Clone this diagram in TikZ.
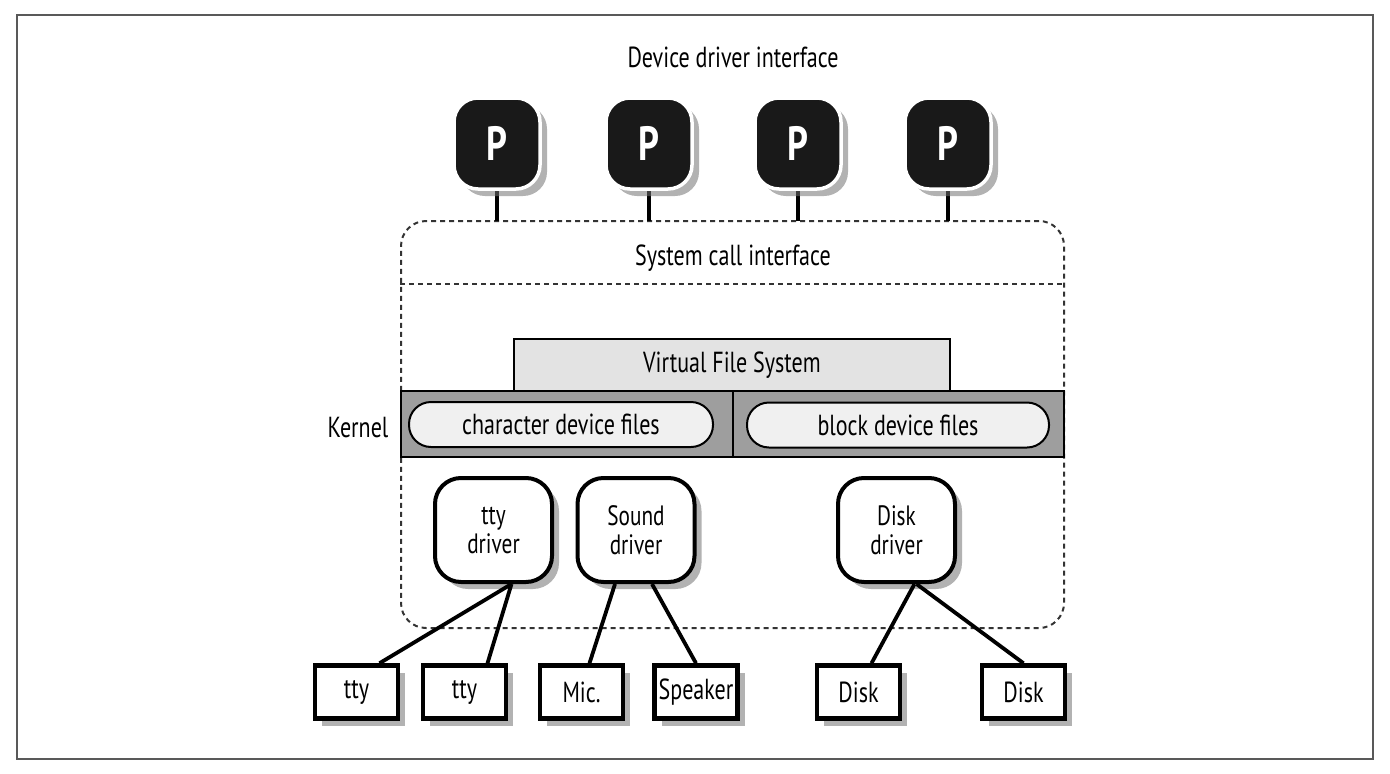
\documentclass[tikz,border=0pt]{standalone}
\usepackage{fontspec}
\setmainfont{PT Sans}[FakeStretch=0.76]
\usetikzlibrary{shadows,calc}
\tikzset{
  shade/.style={drop shadow={shadow xshift=7pt,shadow yshift=-7pt,fill=black!55,opacity=.55}},
  pbox/.style={fill=black!90,draw=white,line width=3.5,rounded corners=24,minimum width=86,minimum height=91,
    text=white,font=\fontsize{48}{48}\selectfont\bfseries,shade},
  drvbox/.style={draw,line width=4,fill=white,rounded corners=26,minimum width=117,minimum height=104,
    align=center,font=\fontsize{28}{29}\selectfont,shade},
  devbox/.style={draw,line width=4.5,fill=white,minimum width=83,minimum height=53,
    font=\fontsize{29}{29}\selectfont,shade},
  pill/.style={draw,line width=2,fill=black!6,rounded corners=22,minimum height=45,font=\fontsize{29}{29}\selectfont},
  lbl/.style={font=\fontsize{29}{29}\selectfont},
  dotted line/.style={draw=black!80,line width=2,dash pattern=on 5pt off 4pt},
  wire/.style={line width=3.8}
}
\begin{document}
\begin{tikzpicture}[x=1pt,y=-1pt]
\useasboundingbox (0,0) rectangle (1390,774);
\draw[black!65,line width=1.8] (17,15) rectangle (1373,759);
\node[lbl] (ddi) at (733,57) {Device driver interface};
% kernel area
\node[dotted line,rounded corners=25,minimum width=663,minimum height=407] (kernbox) at (732.5,424.5) {};
\draw[dotted line] ([yshift=-64pt]kernbox.north west) -- ([yshift=-64pt]kernbox.north east);
\node[lbl] (sci) at (733,258) {System call interface};
\node[lbl] (kern) at (358,428) {Kernel};
\node[draw,line width=2,fill=black!38,minimum width=663,minimum height=66] (band) at (732.5,424) {};
\draw[line width=2] (band.north) -- (band.south);
\node[draw,line width=2,fill=black!11,minimum width=436,minimum height=52,lbl] (vfs) at (732,365) {Virtual File System};
\node[pill,minimum width=304] (chr) at (561,424.5) {character device files};
\node[pill,minimum width=302] (blk) at (898,425) {block device files};
% processes
\foreach \i/\x in {1/497,2/649,3/798,4/948} {
  \draw[wire] (\x,180) -- (\x,221);
  \node[pbox] (p\i) at (\x,143.5) {P};
}
% drivers
\node[drvbox] (ttydrv) at (493.5,530) {tty\\driver};
\node[drvbox] (snddrv) at (636,530) {Sound\\driver};
\node[drvbox] (dskdrv) at (896.5,530) {Disk\\driver};
% devices
\node[devbox] (ttyA) at (356.5,692) {tty};
\node[devbox] (ttyB) at (464.5,692) {tty};
\node[devbox] (mic) at (581.5,692) {Mic.};
\node[devbox] (spk) at (696,692) {Speaker};
\node[devbox] (dskA) at (858.5,692) {Disk};
\node[devbox] (dskB) at (1023.5,692) {Disk};
\draw[wire] ([xshift=18pt]ttydrv.south) -- ([xshift=23pt]ttyA.north);
\draw[wire] ([xshift=18pt]ttydrv.south) -- ([xshift=23pt]ttyB.north);
\draw[wire] ([xshift=-21pt]snddrv.south) -- ([xshift=8pt]mic.north);
\draw[wire] ([xshift=16pt]snddrv.south) -- (spk.north);
\draw[wire] ([xshift=18pt]dskdrv.south) -- ([xshift=13pt]dskA.north);
\draw[wire] ([xshift=20pt]dskdrv.south) -- (dskB.north);
\end{tikzpicture}
\end{document}
